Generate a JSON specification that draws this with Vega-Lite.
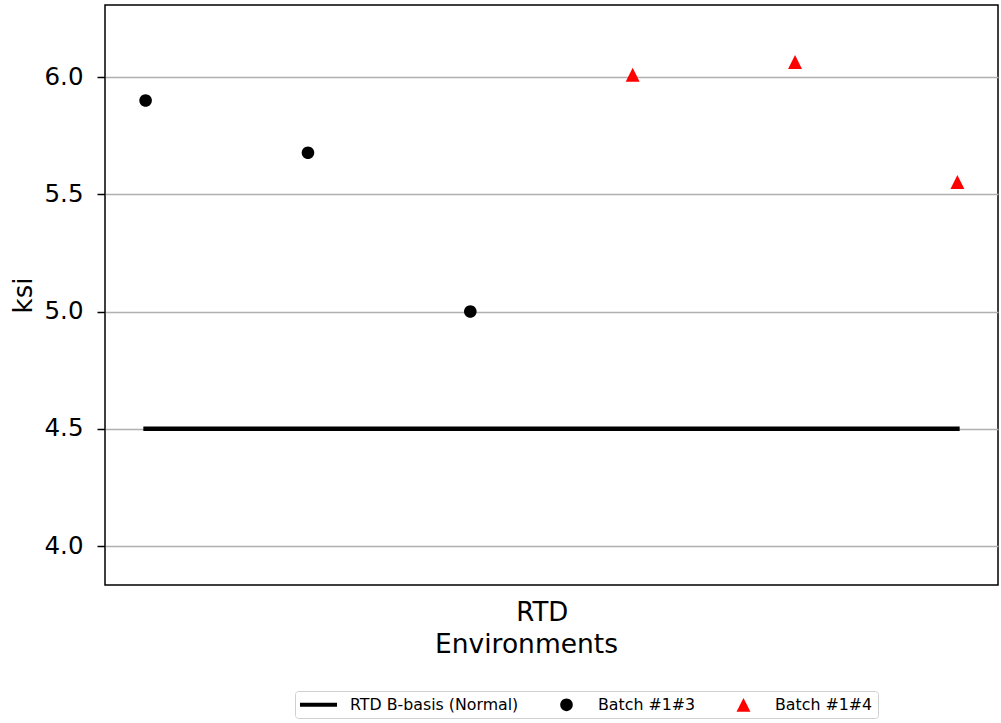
{
  "$schema": "https://vega.github.io/schema/vega-lite/v6.json",
  "width": 893,
  "height": 580,
  "autosize": {"type": "none"},
  "padding": {"left": 105, "top": 5, "right": 3, "bottom": 138},
  "background": "white",
  "config": {
    "font": "DejaVu Sans",
    "view": {"stroke": "black", "strokeWidth": 1.5},
    "axis": {"labelFont": "DejaVu Sans", "titleFont": "DejaVu Sans", "labelColor": "black", "titleColor": "black", "titleFontWeight": "normal", "domain": false},
    "legend": {"labelFont": "DejaVu Sans", "symbolOpacity": 1}
  },
  "datasets": {
    "basis": [
      {"idx": 0, "ksi": 4.5},
      {"idx": 5, "ksi": 4.5}
    ],
    "points": [
      {"idx": 0, "ksi": 5.90, "series": "Batch #1#3"},
      {"idx": 1, "ksi": 5.677, "series": "Batch #1#3"},
      {"idx": 2, "ksi": 5.0, "series": "Batch #1#3"},
      {"idx": 3, "ksi": 6.01, "series": "Batch #1#4"},
      {"idx": 4, "ksi": 6.064, "series": "Batch #1#4"},
      {"idx": 5, "ksi": 5.552, "series": "Batch #1#4"}
    ]
  },
  "layer": [
    {
      "data": {"name": "basis"},
      "mark": {"type": "line", "color": "black", "strokeWidth": 4.5, "strokeCap": "square"},
      "encoding": {
        "x": {
          "field": "idx", "type": "quantitative",
          "scale": {"domain": [-0.25, 5.25], "nice": false, "zero": false},
          "axis": {
            "values": [2.44], "labelExpr": "'RTD'", "ticks": false, "grid": false,
            "labelFontSize": 26, "labelPadding": 14,
            "title": "Environments", "titleFontSize": 26.5,
            "titleX": 421, "titleY": 67, "titleAlign": "center", "titleBaseline": "alphabetic"
          }
        },
        "y": {
          "field": "ksi", "type": "quantitative",
          "scale": {"domain": [3.834, 6.307], "nice": false, "zero": false},
          "axis": {
            "values": [4.0, 4.5, 5.0, 5.5, 6.0], "format": ".1f",
            "labelFontSize": 24.5, "labelPadding": 14, "tickSize": 8, "tickWidth": 1.5, "tickColor": "black",
            "grid": true, "gridColor": "#b0b0b0", "gridWidth": 1.6,
            "title": "ksi", "titleFontSize": 26, "titleX": -82, "titleBaseline": "middle", "titleAlign": "center"
          }
        }
      }
    },
    {
      "data": {"name": "points"},
      "mark": {"type": "point", "filled": true, "opacity": 1, "size": 289, "strokeWidth": 0},
      "encoding": {
        "x": {"field": "idx", "type": "quantitative"},
        "y": {"field": "ksi", "type": "quantitative"},
        "color": {
          "field": "series", "type": "nominal",
          "scale": {"domain": ["RTD B-basis (Normal)", "Batch #1#3", "Batch #1#4"], "range": ["black", "black", "red"]},
          "legend": {
            "title": null, "orient": "none", "legendX": 190, "legendY": 686, "direction": "horizontal",
            "symbolSize": 289, "symbolStrokeWidth": 0, "symbolOffset": 10, "labelFontSize": 15.8, "labelOffset": 23, "labelLimit": 400,
            "columnPadding": 29, "padding": 5, "strokeColor": "#d0d0d0", "cornerRadius": 3, "fillColor": "white",
            "labelColor": "black"
          }
        },
        "shape": {
          "field": "series", "type": "nominal",
          "scale": {"domain": ["RTD B-basis (Normal)", "Batch #1#3", "Batch #1#4"], "range": ["M-2.18,-0.235H2.18V0.235H-2.18Z", "M-0.74,0A0.74,0.74 0 1,0 0.74,0A0.74,0.74 0 1,0 -0.74,0Z", "M0,-0.82L0.82,0.82L-0.82,0.82Z"]},
          "legend": {
            "title": null, "orient": "none", "legendX": 190, "legendY": 686, "direction": "horizontal",
            "symbolSize": 289, "symbolStrokeWidth": 0, "symbolOffset": 10, "labelFontSize": 15.8, "labelOffset": 23, "labelLimit": 400,
            "columnPadding": 29, "padding": 5, "strokeColor": "#d0d0d0", "cornerRadius": 3, "fillColor": "white",
            "labelColor": "black"
          }
        }
      }
    }
  ]
}
